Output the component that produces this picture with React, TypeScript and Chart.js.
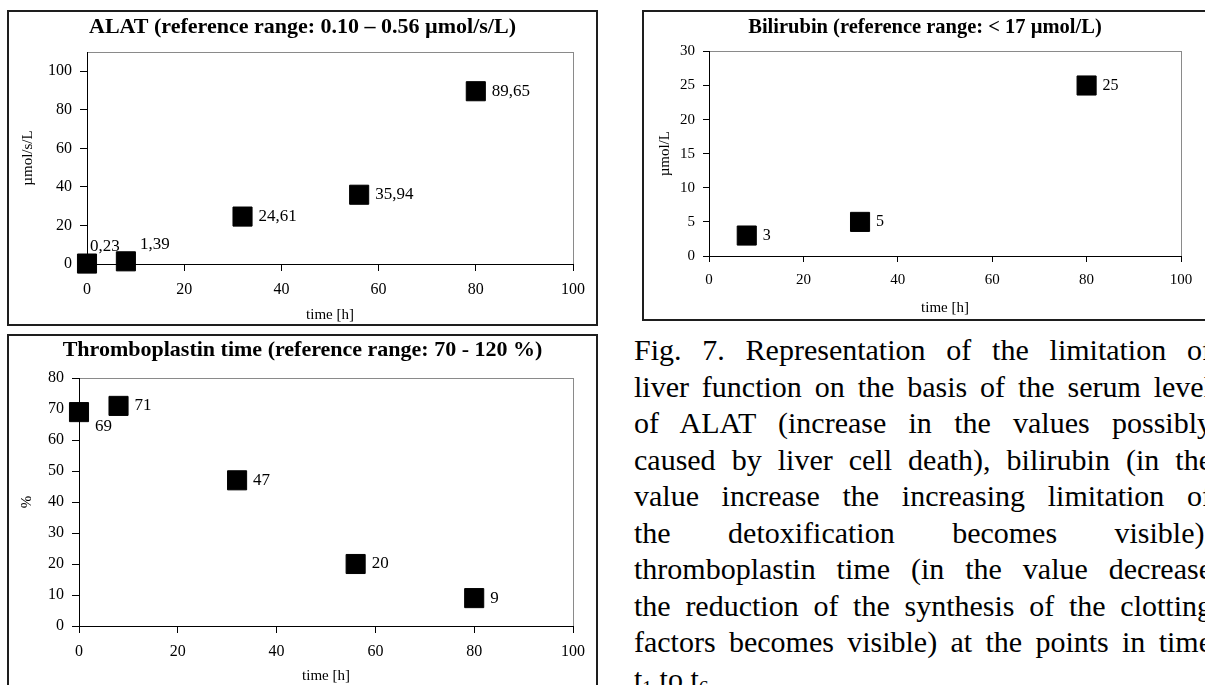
import React, { useEffect, useRef } from 'react';
import { Chart, registerables } from 'chart.js';

Chart.register(...registerables);

// ---------- data ----------
const timeTickValues = [0, 20, 40, 60, 80, 100];

const alatHours = [0, 8, 32, 56, 80];
const alatValues = [0.23, 1.39, 24.61, 35.94, 89.65];
const alatLabelPlacement = ['above', 'aboveRight', 'right', 'right', 'right'];

const bilirubinHours = [8, 32, 80];
const bilirubinValues = [3, 5, 25];
const bilirubinLabelPlacement = ['right', 'right', 'right'];

const thromboHours = [0, 8, 32, 56, 80];
const thromboValues = [69, 71, 47, 20, 9];
const thromboLabelPlacement = ['belowRight', 'right', 'right', 'right', 'right'];

const captionLines = [
  'Fig. 7. Representation of the limitation of',
  'liver function on the basis of the serum level',
  'of ALAT (increase in the values possibly',
  'caused by liver cell death), bilirubin (in the',
  'value increase the increasing limitation of',
  'the detoxification becomes visible),',
  'thromboplastin time (in the value decrease',
  'the reduction of the synthesis of the clotting',
  'factors becomes visible) at the points in time',
];

// ---------- styling ----------
const SERIF = '"Liberation Serif", "Times New Roman", serif';
const LABEL_OFFSETS: Record<string, [number, number]> = {
  right: [16, 0],
  above: [3, -17],
  aboveRight: [14, -17],
  belowRight: [16, 14],
};

const fmt = (v: number) => String(v).replace('.', ',');

const pointLabelPlugin = {
  id: 'pointLabels',
  afterDatasetsDraw(chart: any, _args: any, opts: any) {
    const { ctx } = chart;
    const meta = chart.getDatasetMeta(0);
    const ds = chart.data.datasets[0];
    ctx.save();
    ctx.font = `${opts.size}px ${SERIF}`;
    ctx.fillStyle = '#000';
    ctx.textAlign = 'left';
    ctx.textBaseline = 'middle';
    meta.data.forEach((pt: any, i: number) => {
      const off = LABEL_OFFSETS[opts.placements[i]] || LABEL_OFFSETS.right;
      ctx.fillText(fmt(ds.data[i].y), pt.x + off[0], pt.y + off[1]);
    });
    ctx.restore();
  },
};

// plot area frame (grey) + centre the title over the whole canvas
const plotFramePlugin = {
  id: 'plotFrame',
  afterLayout(chart: any) {
    const tb = chart.titleBlock;
    if (tb) {
      tb.left = 0;
      tb.right = chart.width;
      tb.width = chart.width;
    }
  },
  beforeDraw(chart: any) {
    const { ctx, chartArea: a } = chart;
    ctx.save();
    ctx.strokeStyle = '#8a8a8a';
    ctx.lineWidth = 1;
    ctx.strokeRect(Math.round(a.left) + 0.5, Math.round(a.top) + 0.5, Math.round(a.right - a.left), Math.round(a.bottom - a.top));
    ctx.restore();
  },
};

type Spec = {
  title: string;
  yTitle: string;
  xs: number[];
  ys: number[];
  placements: string[];
  yMax: number;
  yStep: number;
  yTickLimit: number;
  frame: { left: number; top: number; width: number; height: number };
  yAxisWidth: number;
  xAxisHeight: number;
  padRight: number;
  titlePadTop: number;
  titlePadBottom: number;
  yTitlePad: number;
  xTitlePad: number;
  tickSize: number;
  labelSize: number;
  titleSize: number;
  axisTitleSize: number;
  tickLength: number;
};

function ScatterBox({ spec }: { spec: Spec }) {
  const ref = useRef<HTMLCanvasElement | null>(null);
  const border = 2;
  const cw = spec.frame.width - border * 2;
  const ch = spec.frame.height - border * 2;

  useEffect(() => {
    if (!ref.current) return;
    const points = spec.xs.map((x, i) => ({ x, y: spec.ys[i] }));
    const chart = new Chart(ref.current, {
      type: 'scatter',
      data: {
        datasets: [
          {
            data: points,
            pointStyle: 'rect',
            pointRadius: 13.5,
            pointHoverRadius: 13.5,
            pointBackgroundColor: '#000',
            pointBorderColor: '#000',
            pointBorderWidth: 1,
            showLine: false,
            clip: false as any,
          },
        ],
      },
      options: {
        animation: false,
        responsive: false,
        devicePixelRatio: 1,
        events: [],
        layout: { padding: { top: 0, right: spec.padRight, bottom: 0, left: 0 } },
        plugins: {
          legend: { display: false },
          tooltip: { enabled: false },
          title: {
            display: true,
            text: spec.title,
            color: '#000',
            font: { family: SERIF, size: spec.titleSize, weight: 'bold' },
            padding: { top: spec.titlePadTop, bottom: spec.titlePadBottom },
          },
          pointLabels: { placements: spec.placements, size: spec.labelSize },
        } as any,
        scales: {
          x: {
            type: 'linear',
            min: 0,
            max: 100,
            afterBuildTicks: (scale: any) => {
              scale.ticks = timeTickValues.map((v) => ({ value: v }));
            },
            afterFit: (scale: any) => {
              scale.height = spec.xAxisHeight;
            },
            ticks: {
              color: '#000',
              font: { family: SERIF, size: spec.tickSize },
              padding: 9,
              maxRotation: 0,
              autoSkip: false,
            },
            grid: {
              display: true,
              drawOnChartArea: false,
              drawTicks: true,
              tickLength: spec.tickLength,
              color: '#000',
            },
            border: { display: true, color: '#000', width: 1 },
            title: {
              display: true,
              text: 'time [h]',
              color: '#000',
              font: { family: SERIF, size: spec.axisTitleSize },
              padding: { top: 0, bottom: spec.xTitlePad },
            },
          },
          y: {
            type: 'linear',
            min: 0,
            max: spec.yMax,
            afterBuildTicks: (scale: any) => {
              const t: { value: number }[] = [];
              for (let v = 0; v <= spec.yTickLimit + 1e-9; v += spec.yStep) t.push({ value: v });
              scale.ticks = t;
            },
            afterFit: (scale: any) => {
              scale.width = spec.yAxisWidth;
            },
            ticks: {
              color: '#000',
              font: { family: SERIF, size: spec.tickSize },
              padding: 8,
              autoSkip: false,
            },
            grid: {
              display: true,
              drawOnChartArea: false,
              drawTicks: true,
              tickLength: spec.tickLength,
              color: '#000',
            },
            border: { display: true, color: '#000', width: 1 },
            title: {
              display: true,
              text: spec.yTitle,
              color: '#000',
              font: { family: SERIF, size: spec.axisTitleSize },
              padding: { top: spec.yTitlePad, bottom: 0 },
            },
          },
        },
      },
      plugins: [pointLabelPlugin as any, plotFramePlugin as any],
    });
    return () => chart.destroy();
  }, [spec]);

  return (
    <div
      style={{
        position: 'absolute',
        left: spec.frame.left,
        top: spec.frame.top,
        width: spec.frame.width,
        height: spec.frame.height,
        border: `${border}px solid #1e1e1e`,
        boxSizing: 'border-box',
        background: '#fff',
      }}
    >
      <canvas ref={ref} width={cw} height={ch} style={{ display: 'block', width: cw, height: ch }} />
    </div>
  );
}

const alatSpec: Spec = {
  title: 'ALAT (reference range: 0.10 \u2013 0.56 \u00b5mol/s/L)',
  yTitle: '\u00b5mol/s/L',
  xs: alatHours,
  ys: alatValues,
  placements: alatLabelPlacement,
  yMax: 110,
  yStep: 20,
  yTickLimit: 100,
  frame: { left: 7, top: 10, width: 591, height: 316 },
  yAxisWidth: 78,
  xAxisHeight: 60,
  padRight: 23,
  titlePadTop: 2.3,
  titlePadBottom: 11.3,
  yTitlePad: 10,
  xTitlePad: 0,
  tickSize: 16,
  labelSize: 17,
  titleSize: 22,
  axisTitleSize: 15,
  tickLength: 7,
};

const bilirubinSpec: Spec = {
  title: 'Bilirubin (reference range: < 17 \u00b5mol/L)',
  yTitle: '\u00b5mol/L',
  xs: bilirubinHours,
  ys: bilirubinValues,
  placements: bilirubinLabelPlacement,
  yMax: 30,
  yStep: 5,
  yTickLimit: 30,
  frame: { left: 642, top: 10, width: 566, height: 311 },
  yAxisWidth: 65,
  xAxisHeight: 63,
  padRight: 25,
  titlePadTop: 3.4,
  titlePadBottom: 11.4,
  yTitlePad: 12,
  xTitlePad: 2,
  tickSize: 15,
  labelSize: 16,
  titleSize: 20.5,
  axisTitleSize: 15,
  tickLength: 6,
};

const thromboSpec: Spec = {
  title: 'Thromboplastin time (reference range: 70 - 120 %)',
  yTitle: '%',
  xs: thromboHours,
  ys: thromboValues,
  placements: thromboLabelPlacement,
  yMax: 80,
  yStep: 10,
  yTickLimit: 80,
  frame: { left: 7, top: 334, width: 591, height: 356 },
  yAxisWidth: 70,
  xAxisHeight: 62,
  padRight: 23,
  titlePadTop: 0.8,
  titlePadBottom: 14.8,
  yTitlePad: 9,
  xTitlePad: 3,
  tickSize: 16,
  labelSize: 17,
  titleSize: 22,
  axisTitleSize: 15,
  tickLength: 7,
};

export default function App() {
  return (
    <div
      style={{
        position: 'fixed',
        left: 0,
        top: 0,
        width: 1205,
        height: 685,
        overflow: 'hidden',
        background: '#fff',
      }}
    >
      <ScatterBox spec={alatSpec} />
      <ScatterBox spec={bilirubinSpec} />
      <ScatterBox spec={thromboSpec} />
      <div
        style={{
          position: 'absolute',
          left: 634,
          top: 332,
          width: 578,
          fontFamily: SERIF,
          fontSize: 30,
          lineHeight: '36.5px',
          color: '#000',
        }}
      >
        {captionLines.map((line, i) => (
          <div key={i} style={{ textAlign: 'justify', textAlignLast: 'justify', whiteSpace: 'nowrap' as any }}>
            {line}
          </div>
        ))}
        <div>
          t<sub style={{ fontSize: '0.65em', verticalAlign: '-0.25em' }}>1</sub> to t
          <sub style={{ fontSize: '0.65em', verticalAlign: '-0.25em' }}>6</sub>.
        </div>
      </div>
    </div>
  );
}
